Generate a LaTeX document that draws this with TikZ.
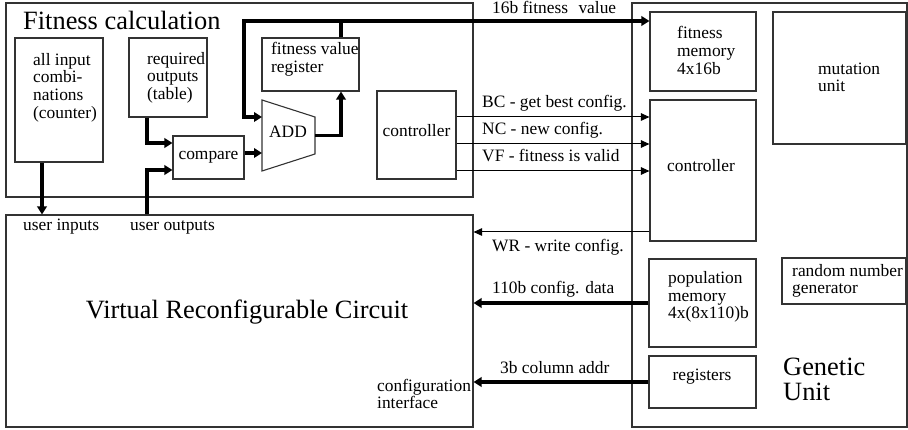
\documentclass[tikz,border=0pt]{standalone}
\usepackage{fontspec}
\setmainfont{Liberation Serif}
\usetikzlibrary{arrows.meta,calc}
\begin{document}
\begin{tikzpicture}[x=1pt,y=-1pt,
  box/.style={draw=black!80,line width=1.1pt,rectangle,inner sep=0pt},
  txt/.style={inner sep=0pt,font=\fontsize{17.4}{17.6}\selectfont,align=left},
  bigtxt/.style={inner sep=0pt,font=\fontsize{26.4}{25}\selectfont,align=left},
  thickarr/.style={line width=3.8pt,-{Triangle[length=8pt,width=9.5pt]}},
  thinarr/.style={line width=1pt,-{Triangle[length=8.5pt,width=7.5pt]}},
]
\useasboundingbox (0,0) rectangle (908,430);
% big frames
\node[box,minimum width=467pt,minimum height=194pt] (fc) at (239.5,100) {};
\node[box,minimum width=275pt,minimum height=424pt] (gu) at (769.5,215) {};
\node[box,minimum width=467pt,minimum height=212pt] (vrc) at (239.5,321) {};
\node[bigtxt,anchor=base west] (fctitle) at (23,30) {Fitness calculation};
\node[bigtxt,anchor=center] (vrctitle) at (247,312) {Virtual Reconfigurable Circuit};
\node[bigtxt,anchor=west] (gutitle) at (783,379.5) {Genetic\\Unit};
% fitness calculation blocks
\node[box,minimum width=88pt,minimum height=124pt] (allin) at (59,100) {};
\node[txt,anchor=west] (allintxt) at (33,87.5) {all input\\combi-\\nations\\(counter)};
\node[box,minimum width=78pt,minimum height=79pt] (req) at (168,77.5) {};
\node[txt,anchor=west] (reqtxt) at (147,77.5) {required\\outputs\\(table)};
\node[box,minimum width=71pt,minimum height=43pt] (cmp) at (208.5,157.5) {};
\node[txt] (cmptxt) at (208.5,157) {compare};
\draw[draw=black!80,line width=1.1pt] (262,100) coordinate (addtl) -- (315,117) coordinate (addtr)
  -- (315,154) coordinate (addbr) -- (262,171) coordinate (addbl) -- cycle;
\node[txt] (add) at (288,132) {ADD};
\node[box,minimum width=97pt,minimum height=53pt] (fvr) at (310.5,64.5) {};
\node[txt,anchor=west] (fvrtxt) at (271,59.5) {fitness value\\register};
\node[box,minimum width=79pt,minimum height=88pt] (fctrl) at (416.5,135) {};
\node[txt] (fctrltxt) at (416.5,131) {controller};
% genetic unit blocks
\node[box,minimum width=106pt,minimum height=79pt] (fmem) at (703,51.5) {};
\node[txt,anchor=west] (fmemtxt) at (677,50.5) {fitness\\memory\\4x16b};
\node[box,minimum width=133pt,minimum height=132pt] (mut) at (839.5,78) {};
\node[txt,anchor=west] (muttxt) at (818,77.5) {mutation\\unit};
\node[box,minimum width=106pt,minimum height=141pt] (gctrl) at (703,170.5) {};
\node[txt] (gctrltxt) at (701,166) {controller};
\node[box,minimum width=107pt,minimum height=88pt] (pop) at (702.5,303) {};
\node[txt,anchor=west] (poptxt) at (668,297) {population\\memory\\4x(8x110)b};
\node[box,minimum width=124pt,minimum height=46pt] (rng) at (844,281) {};
\node[txt,anchor=west] (rngtxt) at (792,281) {random number\\generator};
\node[box,minimum width=107pt,minimum height=52pt] (reg) at (702.5,382) {};
\node[txt] (regtxt) at (702,377) {registers};
% VRC labels
\node[txt,anchor=west] (uitxt) at (23,227) {user inputs};
\node[txt,anchor=west] (uotxt) at (130,227) {user outputs};
\node[txt,anchor=west] (cfgtxt) at (377,394) {configuration\\interface};
% signal labels
\node[txt,anchor=west] (fvlbl) at (492,7) {16b fitness\hspace{0.6em}value};
\node[txt,anchor=west] (bclbl) at (482,103) {BC - get best config.};
\node[txt,anchor=west] (nclbl) at (482,130) {NC - new config.};
\node[txt,anchor=west] (vflbl) at (482,156) {VF - fitness is valid};
\node[txt,anchor=west] (wrlbl) at (492,247) {WR - write config.};
\node[txt,anchor=west] (cdlbl) at (492,289) {110b config. data};
\node[txt,anchor=west] (calbl) at (500,368) {3b column addr};
% helper coordinates
\coordinate (ui) at (42,0);
\coordinate (uo) at (147,170);
\coordinate (rq) at (147,143);
\coordinate (bus) at (244,21);
\coordinate (fvx) at (341,21);
\coordinate (addout) at (341,135.5);
% thick connectors
\draw[thickarr] (allin.south -| ui) -- (vrc.north -| ui);
\draw[thickarr] (vrc.north -| uo) -- (uo) -- (cmp.west |- uo);
\draw[thickarr] (req.south -| rq) -- (rq) -- (cmp.west |- rq);
\draw[thickarr] (cmp.east |- 0,153) -- (addbl |- 0,153);
\draw[thickarr] (addbr |- addout) -- (addout) -- (fvr.south -| addout);
\draw[thickarr] (fvr.north -| fvx) -- (fvx) -- (fmem.west |- fvx);
\draw[thickarr] (fvx) -- (bus) -- (bus |- 0,117) -- (addtl |- 0,117);
\draw[thickarr] (pop.west |- 0,303) -- (vrc.east |- 0,303);
\draw[thickarr] (reg.west |- 0,382) -- (vrc.east |- 0,382);
% thin connectors
\draw[thinarr] (fctrl.east |- 0,117) -- (gctrl.west |- 0,117);
\draw[thinarr] (fctrl.east |- 0,144) -- (gctrl.west |- 0,144);
\draw[thinarr] (fctrl.east |- 0,171) -- (gctrl.west |- 0,171);
\draw[thinarr] (gctrl.west |- 0,232) -- (vrc.east |- 0,232);
\end{tikzpicture}
\end{document}
